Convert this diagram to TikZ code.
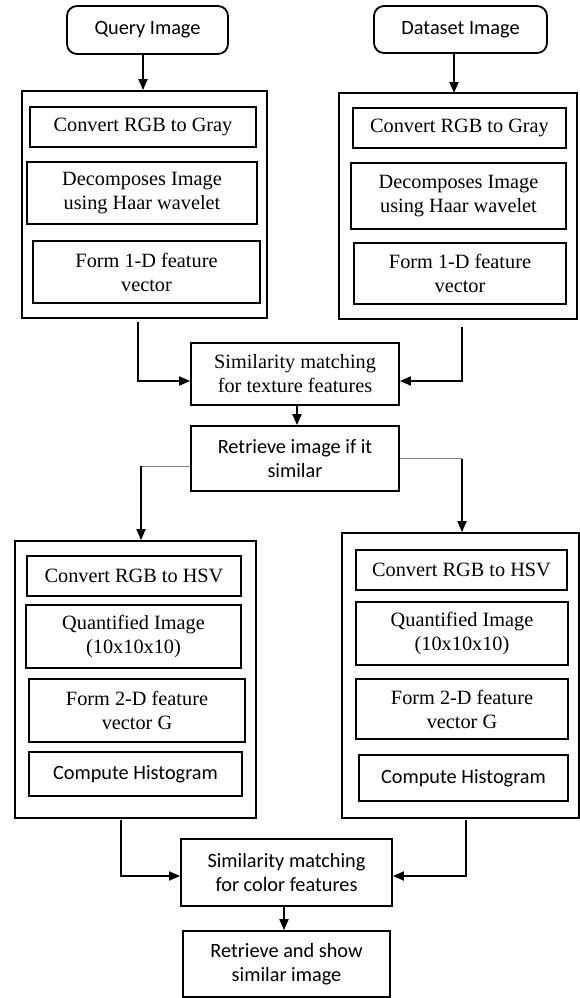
\documentclass[tikz,border=0pt]{standalone}
\usepackage{fontspec}
\setmainfont{Liberation Serif}
\newfontfamily\calfont{Carlito}
\usetikzlibrary{arrows.meta,calc}
\begin{document}
\begin{tikzpicture}[x=1pt,y=-1pt,
  box/.style={draw,line width=1.8pt,inner sep=0pt,align=center,
     font=\fontsize{20.3}{24}\selectfont},
  sbox/.style={box,font=\calfont\fontsize{20.3}{24}\selectfont},
  outer/.style={draw,line width=1.8pt,inner sep=0pt},
  arr/.style={line width=1.8pt,-{Triangle[length=11pt,width=9pt]}},
  thinline/.style={line width=1pt,gray}]
\useasboundingbox (0,0) rectangle (580,998);
% top inputs
\node[sbox,rounded corners=10pt,minimum width=161pt,minimum height=48pt] (q) at (147.5,30) {Query Image};
\node[sbox,rounded corners=10pt,minimum width=173pt,minimum height=47pt] (d) at (460.5,29.5) {Dataset Image};
% texture outer boxes
\node[outer,minimum width=245pt,minimum height=227pt] (l1) at (144.5,204.5) {};
\node[outer,minimum width=238pt,minimum height=226pt] (r1) at (458,206) {};
\node[box,minimum width=226pt,minimum height=40pt] (l1a) at (143,127) {Convert RGB to Gray};
\node[box,minimum width=230pt,minimum height=62pt] (l1b) at (142,193) {Decomposes Image\\using Haar wavelet};
\node[box,minimum width=227pt,minimum height=62pt] (l1c) at (146.5,272) {Form 1-D feature\\vector};
\node[box,minimum width=213pt,minimum height=40pt] (r1a) at (459.5,128) {Convert RGB to Gray};
\node[box,minimum width=215pt,minimum height=66pt] (r1b) at (458.5,196) {Decomposes Image\\using Haar wavelet};
\node[box,minimum width=212pt,minimum height=61pt] (r1c) at (460,273.5) {Form 1-D feature\\vector};
% middle
\node[box,minimum width=208pt,minimum height=62pt] (st) at (295,374) {Similarity matching\\for texture features};
\node[sbox,minimum width=208pt,minimum height=65pt] (ret) at (295,458.5) {Retrieve image if it\\similar};
% color outer boxes
\node[outer,minimum width=241pt,minimum height=277pt] (l2) at (135.5,679.5) {};
\node[outer,minimum width=237pt,minimum height=285pt] (r2) at (460.5,675.5) {};
\node[box,minimum width=214pt,minimum height=40pt] (l2a) at (134,576) {Convert RGB to HSV};
\node[box,minimum width=215pt,minimum height=63pt] (l2b) at (133.5,636.5) {Quantified Image\\(10x10x10)};
\node[box,minimum width=216pt,minimum height=63pt] (l2c) at (137,710.5) {Form 2-D feature\\vector G};
\node[sbox,minimum width=213pt,minimum height=44pt] (l2d) at (135.5,774) {Compute Histogram};
\node[box,minimum width=211pt,minimum height=40pt] (r2a) at (461.5,570) {Convert RGB to HSV};
\node[box,minimum width=212pt,minimum height=63pt] (r2b) at (462,633.5) {Quantified Image\\(10x10x10)};
\node[box,minimum width=212pt,minimum height=60pt] (r2c) at (462,709) {Form 2-D feature\\vector G};
\node[sbox,minimum width=209pt,minimum height=46pt] (r2d) at (463.5,778) {Compute Histogram};
% bottom
\node[sbox,minimum width=211pt,minimum height=67pt] (sc) at (286.5,872.5) {Similarity matching\\for color features};
\node[sbox,minimum width=207pt,minimum height=66pt] (fin) at (286.5,964) {Retrieve and show\\similar image};
% coordinates for connector bends
\coordinate (c1) at (138,322);
\coordinate (c2) at (462,327);
\coordinate (c3) at (141,466);
\coordinate (c4) at (462,458.5);
\coordinate (c5) at (121,820);
\coordinate (c6) at (466,820);
% connectors
\draw[arr] (q.south -| l1a.north) -- (l1.north -| l1a.north);
\draw[arr] (d.south -| 454,0) -- (454,93);
\draw[arr] (c1) |- ([yshift=-7pt]st.west);
\draw[arr] (c2) |- ([yshift=-7pt]st.east);
\draw[arr] ([xshift=2pt]st.south) -- ([xshift=2pt]ret.north);
\draw[thinline] ([yshift=-7.5pt]ret.west) -- (c3);
\draw[arr] (c3) -- (c3 |- l2.north);
\draw[thinline] (ret.east) -- (c4);
\draw[arr] (c4) -- (c4 |- r2.north);
\draw[arr] (c5) |- ([yshift=-3.5pt]sc.west);
\draw[arr] (c6) |- ([yshift=-3.5pt]sc.east);
\draw[arr] ([xshift=-2.5pt]sc.south) -- ([xshift=-2.5pt]fin.north);
\end{tikzpicture}
\end{document}
